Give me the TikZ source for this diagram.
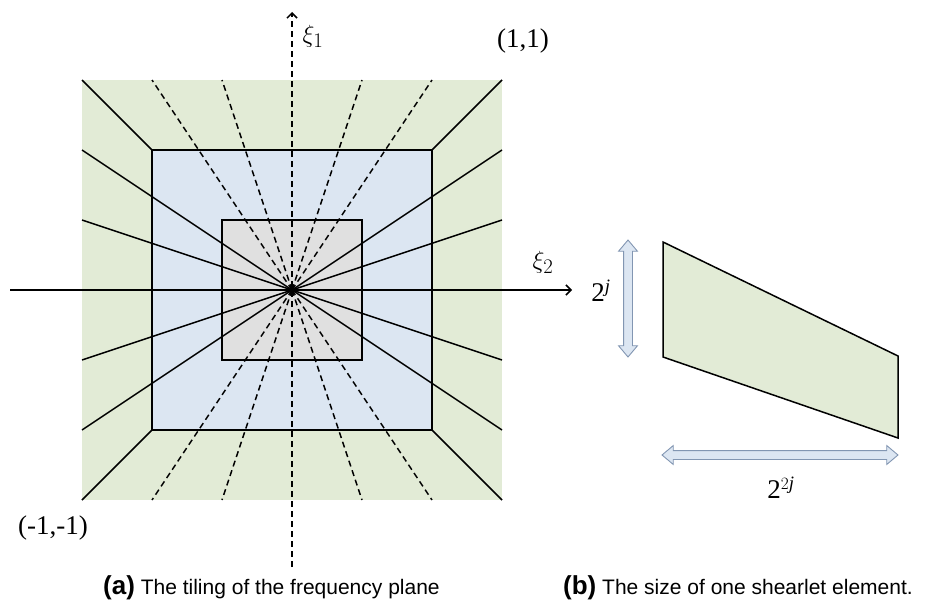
\documentclass[tikz,border=0pt]{standalone}
\usepackage{fontspec}
\setmainfont{Liberation Serif}
\newfontfamily\capfont{Liberation Sans}
\usepackage{tikz}
\usetikzlibrary{arrows.meta,positioning,shapes.arrows,calc}

\definecolor{tilegreen}{RGB}{226,235,214}
\definecolor{tileblue}{RGB}{220,230,242}
\definecolor{tilegray}{RGB}{224,224,224}
\definecolor{dimedge}{RGB}{130,150,178}

\begin{document}
\begin{tikzpicture}[
  x=1pt, y=-1pt,
  ray/.style     = {line width=1.5pt},
  dray/.style    = {line width=1.5pt, dash pattern=on 6pt off 4pt},
  box/.style     = {draw, line width=1.5pt},
  axis/.style    = {line width=1.5pt, -{Straight Barb[length=5pt,width=10pt]}},
  lbl/.style     = {font=\fontsize{27}{30}\selectfont, inner sep=0pt},
  mlbl/.style    = {font=\fontsize{28}{30}\selectfont, inner sep=0pt},
  capt/.style    = {font=\capfont\fontsize{21}{24}\selectfont, inner sep=0pt,
                    anchor=base west},
  dimarrow/.style = {double arrow, draw=dimedge, fill=tileblue, line width=0.9pt,
                    double arrow head extend=5pt, double arrow tip angle=80,
                    inner xsep=0pt, inner ysep=4pt},
]
\useasboundingbox (0,0) rectangle (935,602);

% ── (a) frequency tiling ─────────────────────────────────────
\coordinate (O) at (292,290);
\fill[tilegreen]     ($(O)+(-210,-210)$) rectangle ($(O)+(210,210)$);
\draw[box, fill=tileblue] ($(O)+(-140,-140)$) rectangle ($(O)+(140,140)$);
\draw[box, fill=tilegray] ($(O)+(-70,-70)$)   rectangle ($(O)+(70,70)$);

% horizontal cones (solid) and vertical cones (dashed)
\foreach \k in {-140,-70,70,140} {
  \draw[ray]  (O) -- ($(O)+(-210,\k)$);
  \draw[ray]  (O) -- ($(O)+(210,\k)$);
  \draw[dray] (O) -- ($(O)+(\k,-210)$);
  \draw[dray] (O) -- ($(O)+(\k,210)$);
}
% corner pieces of the outer ring
\foreach \sx/\sy in {1/1,1/-1,-1/1,-1/-1}
  \draw[ray] ($(O)+(140*\sx,140*\sy)$) -- ($(O)+(210*\sx,210*\sy)$);

% ── Axes ─────────────────────────────────────────────────────
\coordinate (xl) at (10,290);
\coordinate (xr) at (572,290);
\coordinate (yb) at (292,567);
\coordinate (yt) at (292,12);
\draw[axis] (xl) -- (xr);
\draw[axis, dash pattern=on 6pt off 4pt] (yb) -- (yt);

\node[mlbl] (xione) at (313,36)  {$\xi_1$};
\node[mlbl] (xitwo) at (543,262) {$\xi_2$};
\node[lbl]  (pp)    at (523,41)  {(1,1)};
\node[lbl]  (mm)    at (53,528)  {(-1,-1)};

% ── (b) one shearlet element ─────────────────────────────────
\draw[box, fill=tilegreen] (663,242) -- (898,356) -- (898,438) -- (663,357) -- cycle;
\node[dimarrow, minimum height=117pt, rotate=90] (hgt) at (628,298.5) {};
\node[dimarrow, minimum height=236pt]            (wid) at (780,455) {};
\node[lbl] (hlbl) at (601,291) {2$^{\mathit{j}}$};
\node[lbl] (wlbl) at (781,488) {2$^{2\mathit{j}}$};

% ── Captions ─────────────────────────────────────────────────
\node[capt] (capa) at (103,594)
  {{\bfseries\fontsize{26}{28}\selectfont (a)} The tiling of the frequency plane};
\node[capt] (capb) at (563,594)
  {{\bfseries\fontsize{26}{28}\selectfont (b)} The size of one shearlet element.};
\end{tikzpicture}
\end{document}
